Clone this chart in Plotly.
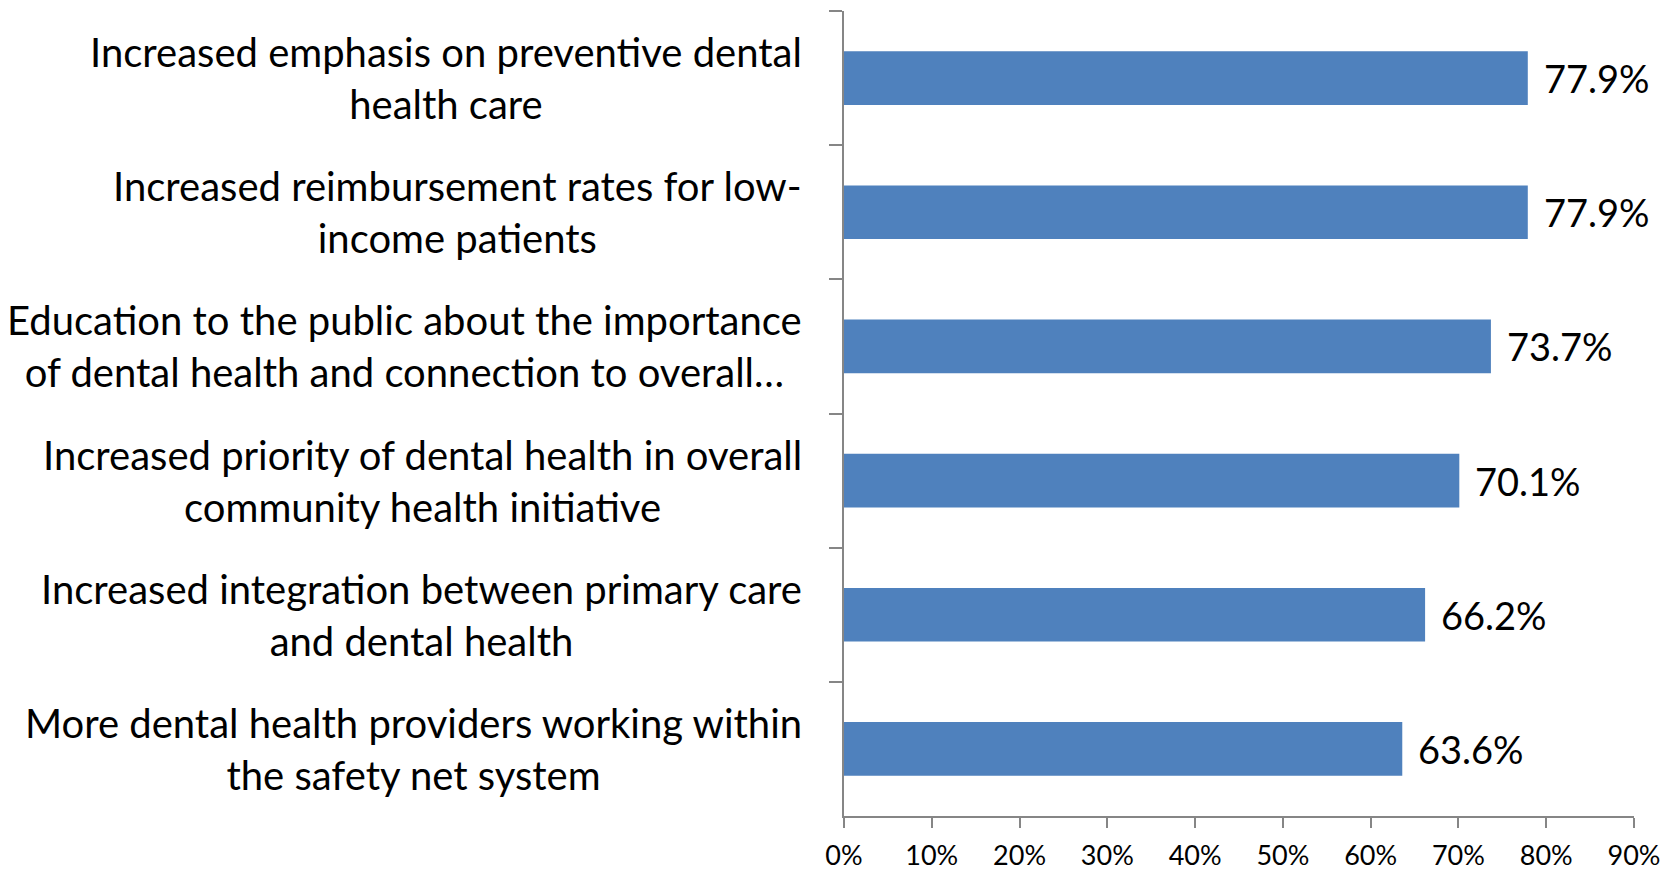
import plotly.graph_objects as go

categories = [
    "Increased emphasis on preventive dental<br>health care",
    "Increased reimbursement rates for low-<br>income patients",
    "Education to the public about the importance<br>of dental health and connection to overall…",
    "Increased priority of dental health in overall<br>community health initiative",
    "Increased integration between primary care<br>and dental health",
    "More dental health providers working within<br>the safety net system",
]
values = [0.779, 0.779, 0.737, 0.701, 0.662, 0.636]
x_ticks = [0, 0.1, 0.2, 0.3, 0.4, 0.5, 0.6, 0.7, 0.8, 0.9]

FONT = "Lato"
BAR = "#4F81BD"
AXIS = "#868686"

fig = go.Figure()
fig.add_trace(go.Bar(
    x=values, y=categories, orientation="h",
    marker=dict(color=BAR, line=dict(width=0)),
    width=0.4, showlegend=False, hoverinfo="x+y",
))

annotations = []
for c, v in zip(categories, values):
    annotations.append(dict(
        x=v, y=c, xref="x", yref="y", text=f"{v*100:.1f}%",
        showarrow=False, xanchor="left", yanchor="middle", xshift=14,
        font=dict(family=FONT, size=38, color="#000000"),
    ))
    annotations.append(dict(
        x=0, y=c, xref="paper", yref="y", text=c,
        showarrow=False, xanchor="right", yanchor="middle", align="center",
        xshift=-40, font=dict(family=FONT, size=40, color="#000000"),
    ))

fig.update_layout(
    width=1670, height=863,
    margin=dict(l=836, r=44, t=3, b=55, autoexpand=False),
    paper_bgcolor="white", plot_bgcolor="white",
    font=dict(family=FONT, color="#000000"),
    annotations=annotations,
    xaxis=dict(
        range=[0, 0.9], tickvals=x_ticks, tickformat=".0%",
        showgrid=False, zeroline=False, automargin=False,
        showline=True, linecolor=AXIS, linewidth=1.5,
        ticks="outside", ticklen=10, tickcolor=AXIS, tickwidth=1.5,
        tickfont=dict(family=FONT, size=27, color="#000000"),
        ticklabelstandoff=5,
    ),
    yaxis=dict(
        autorange="reversed", showticklabels=False, automargin=False,
        showgrid=False, zeroline=False,
        showline=True, linecolor=AXIS, linewidth=1.5,
        ticks="outside", ticklen=13, tickcolor=AXIS, tickwidth=1.5,
        tickson="boundaries",
    ),
)

fig.write_html("out.html")
